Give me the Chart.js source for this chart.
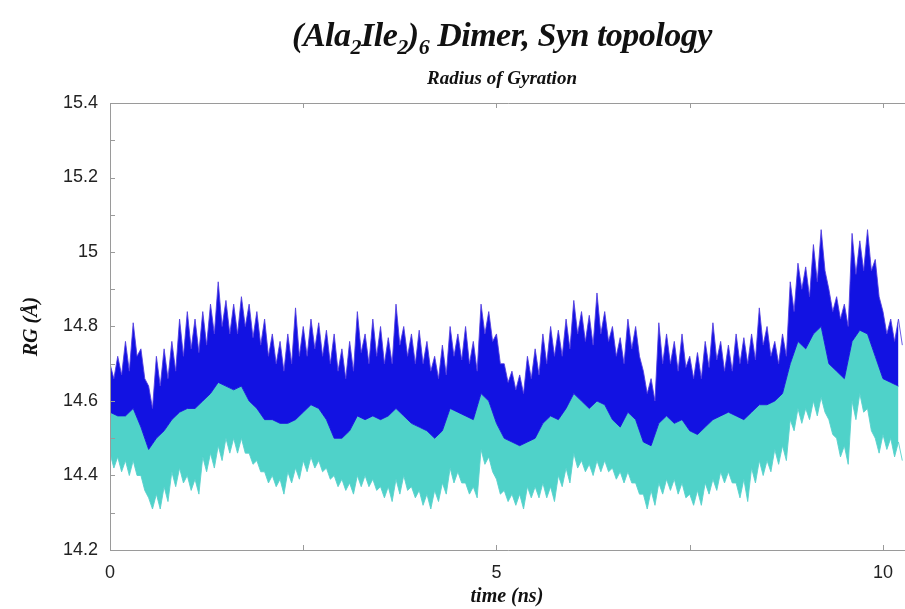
<!DOCTYPE html>
<html>
<head>
<meta charset="utf-8">
<title>Radius of Gyration</title>
<script src="https://cdn.jsdelivr.net/npm/chart.js@4.4.1/dist/chart.umd.min.js"></script>
<style>
  html, body { margin: 0; padding: 0; background: #fff; }
  #wrap { position: relative; width: 905px; height: 609px; }
  #chart { position: absolute; left: 0; top: 0; }
  .title {
    position: absolute; left: 0; width: 1004px; text-align: center;
    font-family: "Liberation Serif", "DejaVu Serif", serif;
    font-weight: bold; font-style: italic; color: #111;
  }
  #main-title { top: 16px; font-size: 34px; letter-spacing: -0.5px; }
  #main-title sub { font-size: 22px; vertical-align: -8px; }
  #sub-title { top: 67px; font-size: 19px; }
</style>
</head>
<body>
<div id="wrap">
  <canvas id="chart" width="905" height="609"></canvas>
  <div class="title" id="main-title">(Ala<sub>2</sub>Ile<sub>2</sub>)<sub>6</sub> Dimer, Syn topology</div>
  <div class="title" id="sub-title">Radius of Gyration</div>
</div>
<script>
/* ── data (every 0.1 ns) ─────────────────────────────────── */
const timeNs = [
  0.0, 0.1, 0.2, 0.3, 0.4, 0.5, 0.6, 0.7, 0.8, 0.9,
  1.0, 1.1, 1.2, 1.3, 1.4, 1.5, 1.6, 1.7, 1.8, 1.9,
  2.0, 2.1, 2.2, 2.3, 2.4, 2.5, 2.6, 2.7, 2.8, 2.9,
  3.0, 3.1, 3.2, 3.3, 3.4, 3.5, 3.6, 3.7, 3.8, 3.9,
  4.0, 4.1, 4.2, 4.3, 4.4, 4.5, 4.6, 4.7, 4.8, 4.9,
  5.0, 5.1, 5.2, 5.3, 5.4, 5.5, 5.6, 5.7, 5.8, 5.9,
  6.0, 6.1, 6.2, 6.3, 6.4, 6.5, 6.6, 6.7, 6.8, 6.9,
  7.0, 7.1, 7.2, 7.3, 7.4, 7.5, 7.6, 7.7, 7.8, 7.9,
  8.0, 8.1, 8.2, 8.3, 8.4, 8.5, 8.6, 8.7, 8.8, 8.9,
  9.0, 9.1, 9.2, 9.3, 9.4, 9.5, 9.6, 9.7, 9.8, 9.9,
  10.0, 10.1, 10.2
];

// dark blue trace: spike tips, top of the dense core, bottom of the band
const blueTip = [
  14.70, 14.72, 14.76, 14.81, 14.74, 14.64, 14.72, 14.74, 14.76, 14.82,
  14.84, 14.82, 14.84, 14.86, 14.92, 14.87, 14.86, 14.88, 14.86, 14.84,
  14.82, 14.78, 14.76, 14.78, 14.85, 14.80, 14.82, 14.81, 14.79, 14.78,
  14.74, 14.76, 14.84, 14.78, 14.82, 14.80, 14.77, 14.86, 14.80, 14.78,
  14.79, 14.76, 14.72, 14.75, 14.80, 14.78, 14.80, 14.76, 14.86, 14.84,
  14.78, 14.70, 14.68, 14.67, 14.72, 14.74, 14.78, 14.80, 14.79, 14.82,
  14.87, 14.84, 14.83, 14.89, 14.84, 14.80, 14.77, 14.82, 14.80, 14.68,
  14.66, 14.81, 14.78, 14.76, 14.78, 14.72, 14.73, 14.76, 14.81, 14.76,
  14.75, 14.78, 14.77, 14.78, 14.85, 14.80, 14.76, 14.78, 14.92, 14.97,
  14.96, 15.02, 15.06, 14.90, 14.88, 14.86, 15.05, 15.03, 15.06, 14.98,
  14.84, 14.82, 14.82
];
const blueCore = [
  14.66, 14.67, 14.68, 14.72, 14.66, 14.58, 14.64, 14.66, 14.68, 14.72,
  14.74, 14.73, 14.75, 14.78, 14.80, 14.78, 14.78, 14.80, 14.77, 14.75,
  14.72, 14.70, 14.68, 14.70, 14.72, 14.72, 14.74, 14.72, 14.70, 14.68,
  14.66, 14.68, 14.73, 14.70, 14.72, 14.70, 14.70, 14.75, 14.72, 14.70,
  14.70, 14.68, 14.66, 14.67, 14.72, 14.71, 14.70, 14.68, 14.78, 14.76,
  14.70, 14.65, 14.63, 14.62, 14.66, 14.67, 14.70, 14.72, 14.72, 14.74,
  14.78, 14.76, 14.75, 14.78, 14.76, 14.72, 14.70, 14.74, 14.72, 14.62,
  14.60, 14.70, 14.70, 14.68, 14.69, 14.66, 14.66, 14.69, 14.71, 14.68,
  14.68, 14.70, 14.70, 14.71, 14.75, 14.72, 14.70, 14.72, 14.84, 14.90,
  14.88, 14.92, 14.95, 14.84, 14.82, 14.80, 14.94, 14.95, 14.95, 14.88,
  14.78, 14.76, 14.75
];
const blueLow = [
  14.57, 14.56, 14.56, 14.58, 14.53, 14.47, 14.50, 14.52, 14.55, 14.57,
  14.58, 14.58, 14.60, 14.62, 14.65, 14.64, 14.63, 14.64, 14.60, 14.58,
  14.55, 14.55, 14.54, 14.54, 14.55, 14.57, 14.59, 14.58, 14.55, 14.50,
  14.50, 14.52, 14.56, 14.55, 14.56, 14.55, 14.56, 14.58, 14.56, 14.54,
  14.53, 14.52, 14.50, 14.52, 14.58, 14.57, 14.56, 14.55, 14.62, 14.60,
  14.54, 14.50, 14.49, 14.48, 14.49, 14.50, 14.54, 14.56, 14.55, 14.58,
  14.62, 14.60, 14.58, 14.60, 14.59, 14.55, 14.53, 14.57, 14.55, 14.49,
  14.48, 14.54, 14.56, 14.54, 14.55, 14.52, 14.51, 14.53, 14.55, 14.56,
  14.57, 14.56, 14.55, 14.57, 14.59, 14.59, 14.60, 14.62, 14.70, 14.76,
  14.74, 14.78, 14.80, 14.70, 14.68, 14.66, 14.76, 14.79, 14.78, 14.72,
  14.66, 14.65, 14.64
];

// turquoise trace: bottom of its dense core and its downward spike tips
const cyanCore = [
  14.46, 14.45, 14.44, 14.44, 14.40, 14.34, 14.35, 14.37, 14.41, 14.42,
  14.40, 14.39, 14.45, 14.46, 14.48, 14.50, 14.50, 14.50, 14.46, 14.44,
  14.41, 14.40, 14.39, 14.41, 14.42, 14.44, 14.45, 14.44, 14.42, 14.40,
  14.39, 14.38, 14.40, 14.40, 14.39, 14.37, 14.37, 14.39, 14.40, 14.37,
  14.36, 14.35, 14.36, 14.38, 14.42, 14.41, 14.38, 14.37, 14.47, 14.45,
  14.39, 14.36, 14.35, 14.35, 14.37, 14.37, 14.38, 14.37, 14.40, 14.42,
  14.46, 14.44, 14.43, 14.44, 14.44, 14.42, 14.41, 14.41, 14.38, 14.35,
  14.36, 14.38, 14.39, 14.39, 14.38, 14.35, 14.36, 14.38, 14.39, 14.41,
  14.41, 14.38, 14.39, 14.42, 14.44, 14.44, 14.47, 14.48, 14.55, 14.58,
  14.58, 14.60, 14.61, 14.55, 14.50, 14.48, 14.60, 14.62, 14.58, 14.50,
  14.51, 14.50, 14.49
];
const cyanLow = [
  14.42, 14.41, 14.40, 14.40, 14.36, 14.31, 14.31, 14.33, 14.37, 14.38,
  14.36, 14.35, 14.41, 14.42, 14.44, 14.46, 14.46, 14.46, 14.43, 14.41,
  14.38, 14.37, 14.35, 14.38, 14.39, 14.41, 14.42, 14.41, 14.39, 14.37,
  14.36, 14.35, 14.37, 14.37, 14.36, 14.34, 14.33, 14.35, 14.36, 14.34,
  14.32, 14.31, 14.33, 14.35, 14.38, 14.38, 14.35, 14.34, 14.43, 14.41,
  14.35, 14.33, 14.32, 14.31, 14.34, 14.34, 14.34, 14.33, 14.37, 14.38,
  14.42, 14.41, 14.40, 14.41, 14.41, 14.39, 14.38, 14.38, 14.35, 14.31,
  14.32, 14.35, 14.36, 14.35, 14.34, 14.32, 14.32, 14.35, 14.36, 14.38,
  14.38, 14.34, 14.33, 14.38, 14.40, 14.41, 14.43, 14.44, 14.52, 14.54,
  14.55, 14.56, 14.57, 14.51, 14.45, 14.43, 14.55, 14.57, 14.52, 14.46,
  14.47, 14.45, 14.44
];

const xTickMarks = [0, 2.5, 5, 7.5, 10];
const xTickLabels = ['0', '', '5', '', '10'];
const yTickValues = [14.2, 14.3, 14.4, 14.5, 14.6, 14.7, 14.8, 14.9, 15.0, 15.1, 15.2, 15.3, 15.4];
const yTickLabels = ['14.2', '', '14.4', '', '14.6', '', '14.8', '', '15', '', '15.2', '', '15.4'];

const HALF_STEP = 0.05;

/* ── build point lists ─────────────────────────────────── */
function interleave(a, b) {
  const pts = [];
  timeNs.forEach((t, i) => {
    pts.push({ x: t, y: a[i] });
    pts.push({ x: t + HALF_STEP, y: b[i] });
  });
  return pts;
}
const blueTopPts = interleave(blueTip, blueCore);
const blueLowPts = timeNs.map((t, i) => ({ x: t, y: blueLow[i] }));
const cyanPts = interleave(cyanCore, cyanLow);

function labelFor(values, labels, v) {
  const idx = values.findIndex(t => Math.abs(t - v) < 1e-6);
  return idx >= 0 ? labels[idx] : '';
}

// frame + inward tick marks, the way the original plot has them
const framePlugin = {
  id: 'frame',
  afterDraw(chart) {
    const { ctx, chartArea: a, scales } = chart;
    ctx.save();
    ctx.strokeStyle = '#9a9a9a';
    ctx.lineWidth = 1;
    ctx.beginPath();
    ctx.moveTo(a.right + 5, a.top + 0.5);
    ctx.lineTo(a.left + 0.5, a.top + 0.5);
    ctx.lineTo(a.left + 0.5, a.bottom + 0.5);
    ctx.lineTo(a.right + 5, a.bottom + 0.5);
    xTickMarks.forEach(v => {
      const px = Math.round(scales.x.getPixelForValue(v)) + 0.5;
      ctx.moveTo(px, a.bottom); ctx.lineTo(px, a.bottom - 5);
      ctx.moveTo(px, a.top); ctx.lineTo(px, a.top + 5);
    });
    yTickValues.forEach(v => {
      const py = Math.round(scales.y.getPixelForValue(v)) + 0.5;
      ctx.moveTo(a.left, py); ctx.lineTo(a.left + 5, py);
    });
    ctx.stroke();
    ctx.restore();
  }
};

const serifBold = { family: '"Liberation Serif", "DejaVu Serif", serif', size: 20, weight: 'bold', style: 'italic' };
const sansTicks = { family: '"Liberation Sans", Arial, sans-serif', size: 18 };

new Chart(document.getElementById('chart'), {
  type: 'line',
  data: {
    datasets: [
      {
        label: 'blue',
        data: blueTopPts,
        borderColor: 'rgba(80,60,225,0.85)',
        backgroundColor: '#1212e2',
        borderWidth: 1,
        fill: '+1',
      },
      {
        label: 'blue-low',
        data: blueLowPts,
        borderColor: 'rgba(20,20,220,0.9)',
        borderWidth: 1,
        fill: false,
      },
      {
        label: 'cyan',
        data: cyanPts,
        borderColor: 'rgba(90,210,205,0.9)',
        backgroundColor: '#4fd2c9',
        borderWidth: 1,
        fill: 1,
      }
    ]
  },
  options: {
    responsive: false,
    animation: false,
    events: [],
    layout: { padding: { top: 103, right: 0, left: 0, bottom: 0 } },
    elements: { point: { radius: 0 }, line: { tension: 0 } },
    plugins: {
      legend: { display: false },
      tooltip: { enabled: false },
      title: { display: false }
    },
    scales: {
      x: {
        type: 'linear',
        min: 0,
        max: 10.27,
        grid: { display: false, drawTicks: false },
        border: { display: false },
        afterFit: s => { s.height = 59; },
        afterBuildTicks: s => { s.ticks = xTickMarks.map(v => ({ value: v })); },
        ticks: {
          padding: 12,
          maxRotation: 0,
          autoSkip: false,
          color: '#222',
          font: sansTicks,
          callback: v => labelFor(xTickMarks, xTickLabels, v)
        },
        title: { display: true, text: 'time (ns)', color: '#111', font: serifBold, padding: { top: 0, bottom: 0 } }
      },
      y: {
        min: 14.2,
        max: 15.4,
        grid: { display: false, drawTicks: false },
        border: { display: false },
        afterFit: s => { s.width = 110; },
        afterBuildTicks: s => { s.ticks = yTickValues.map(v => ({ value: v })); },
        ticks: {
          padding: 12,
          autoSkip: false,
          color: '#222',
          font: sansTicks,
          callback: v => labelFor(yTickValues, yTickLabels, v)
        },
        title: { display: true, text: 'RG (Å)', color: '#111', font: serifBold, padding: { top: 20, bottom: 0 } }
      }
    }
  },
  plugins: [framePlugin]
});
</script>
</body>
</html>
